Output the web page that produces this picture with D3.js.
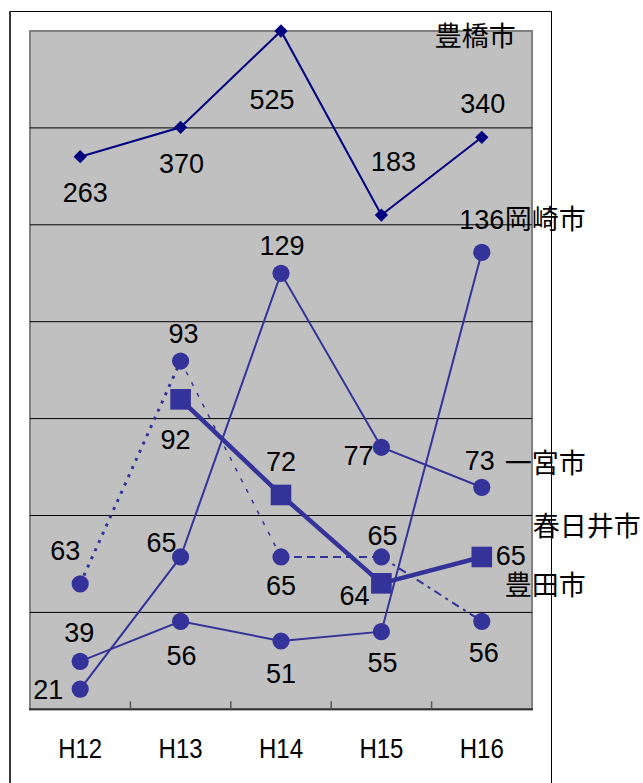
<!DOCTYPE html>
<html>
<head>
<meta charset="utf-8">
<script src="https://cdn.jsdelivr.net/npm/d3@7"></script>
<style>
  body { margin: 0; background: #fff; }
  .num { font-family: "Liberation Sans", Arial, sans-serif; font-size: 27px; fill: #000; }
  .cat { font-family: "Liberation Sans", Arial, sans-serif; font-size: 24px; fill: #000; }
  .name { font-family: "Noto Sans CJK JP", sans-serif; font-size: 27px; fill: #000; }
</style>
</head>
<body>
<svg id="chart" width="643" height="783"></svg>
<script>
// ---- data ----
const years      = ["H12", "H13", "H14", "H15", "H16"];
const toyohashi  = [263, 370, 525, 183, 340];
const okazaki    = [39, 56, 51, 55, 136];
const ichinomiya = [21, 65, 129, 77, 73];
const kasugai    = [null, 92, 72, 64, 65];
const toyota     = [63, 93, 65, 65, 56];
const cityNames  = ["豊橋市", "岡崎市", "一宮市", "春日井市", "豊田市"];

// ---- value axis: piecewise stretched, break values placed on the seven grid bands ----
const axisBreaks = [0, 21, 39, 51, 55, 56, 63, 64, 65, 72, 73, 77, 92, 93, 129, 136, 183, 263, 340, 370, 525];
const axisBands  = [0, 0.209, 0.495, 0.705, 0.801, 0.908, 1.295, 1.30, 1.572, 2.212, 2.291, 2.704,
                    3.199, 3.594, 4.499, 4.716, 5.101, 5.703, 5.903, 6.006, 7];
const bandCount = 7;

// ---- layout ----
const W = 643, H = 783;
const plot = { left: 30, right: 532, top: 31, bottom: 709.3 };
const svg = d3.select("#chart");

const x = d3.scaleBand().domain(years).range([plot.left, plot.right]);
const cx = d => x(d) + x.bandwidth() / 2;
const yBand = d3.scaleLinear().domain(axisBreaks).range(axisBands);
const yPix = d3.scaleLinear().domain([0, bandCount]).range([plot.bottom, plot.top]);
const y = v => yPix(yBand(v));

// outer chart frame
svg.append("rect").attr("x", 10.5).attr("y", 11.5).attr("width", 541).attr("height", 800)
  .attr("fill", "#fff").attr("stroke", "#000").attr("stroke-width", 1);
svg.append("line").attr("x1", 10).attr("x2", 10).attr("y1", 11).attr("y2", H)
  .attr("stroke", "#3a3a3a").attr("stroke-width", 2);

// plot area
svg.append("rect")
  .attr("x", plot.left).attr("y", plot.top)
  .attr("width", plot.right - plot.left).attr("height", plot.bottom - plot.top)
  .attr("fill", "#c0c0c0").attr("stroke", "#808080").attr("stroke-width", 2);

// horizontal grid lines
svg.append("g").selectAll("line").data(d3.range(1, bandCount)).join("line")
  .attr("x1", plot.left).attr("x2", plot.right)
  .attr("y1", d => yPix(d)).attr("y2", d => yPix(d))
  .attr("stroke", "#000").attr("stroke-width", 1);

// category axis with inner ticks between categories
svg.append("line").attr("x1", plot.left - 1).attr("x2", plot.right + 1)
  .attr("y1", plot.bottom).attr("y2", plot.bottom)
  .attr("stroke", "#333").attr("stroke-width", 2);
svg.append("g").selectAll("line").data(d3.range(1, years.length)).join("line")
  .attr("x1", i => plot.left + i * x.step()).attr("x2", i => plot.left + i * x.step())
  .attr("y1", plot.bottom).attr("y2", plot.bottom - 8)
  .attr("stroke", "#555").attr("stroke-width", 1.5);
svg.append("g").selectAll("text").data(years).join("text")
  .attr("class", "cat").attr("text-anchor", "middle")
  .attr("transform", d => `translate(${cx(d)},758) scale(1,1.16)`)
  .text(d => d);

const blue = "#333399", navy = "#000080";
const pts = vals => vals.map((v, i) => ({ v, k: years[i] }));
const line = d3.line().defined(p => p.v != null).x(p => cx(p.k)).y(p => y(p.v));

// 春日井市: thick line with squares
svg.append("path").datum(pts(kasugai)).attr("d", line)
  .attr("fill", "none").attr("stroke", blue).attr("stroke-width", 4.5);

// 豊田市: each segment with its own dash pattern
const toyotaDash = [
  { w: 3, dash: "3,6" },
  { w: 1.5, dash: "4,8" },
  { w: 2, dash: "8,5" },
  { w: 2, dash: "8,5,3,5" }
];
const tp = pts(toyota);
svg.append("g").selectAll("line").data(d3.range(tp.length - 1)).join("line")
  .attr("x1", i => cx(tp[i].k)).attr("y1", i => y(tp[i].v))
  .attr("x2", i => cx(tp[i + 1].k)).attr("y2", i => y(tp[i + 1].v))
  .attr("stroke", blue).attr("stroke-width", i => toyotaDash[i].w)
  .attr("stroke-dasharray", i => toyotaDash[i].dash);

// 岡崎市, 一宮市: thin solid lines
[okazaki, ichinomiya].forEach(vals => {
  svg.append("path").datum(pts(vals)).attr("d", line)
    .attr("fill", "none").attr("stroke", blue).attr("stroke-width", 2);
});

// 豊橋市: navy line
svg.append("path").datum(pts(toyohashi)).attr("d", line)
  .attr("fill", "none").attr("stroke", navy).attr("stroke-width", 2);

// markers
[okazaki, ichinomiya, toyota].forEach(vals => {
  svg.append("g").selectAll("circle").data(pts(vals).filter(p => p.v != null)).join("circle")
    .attr("cx", p => cx(p.k)).attr("cy", p => y(p.v)).attr("r", 8.6).attr("fill", blue);
});
svg.append("g").selectAll("rect").data(pts(kasugai).filter(p => p.v != null)).join("rect")
  .attr("x", p => cx(p.k) - 10.3).attr("y", p => y(p.v) - 10.3)
  .attr("width", 20.6).attr("height", 20.6).attr("fill", blue);
svg.append("g").selectAll("path").data(pts(toyohashi)).join("path")
  .attr("d", d3.symbol(d3.symbolSquare, 88))
  .attr("transform", p => `translate(${cx(p.k)},${y(p.v)}) rotate(45)`)
  .attr("fill", navy);

// value labels, offset from each marker
const labelOffsets = [
  [[5, 36], [1, 36], [-9, 68], [12, -54], [1, -34]],        // 豊橋市
  [[-1, -29], [1, 34], [0, 32], [1, 31], [0, -33]],          // 岡崎市
  [[-32, 0], [-19, -15], [1, -28], [-23, 8], [-2, -27]],     // 一宮市
  [null, [-5, 40], [0, -34], [-27, 12], [29, -2]],           // 春日井市
  [[-15, -34], [3, -28], [0, 28], [1, -22], [2, 31]]         // 豊田市
];
const allSeries = [toyohashi, okazaki, ichinomiya, kasugai, toyota];
const labels = [];
allSeries.forEach((vals, s) => vals.forEach((v, i) => {
  if (v == null) return;
  const o = labelOffsets[s][i];
  labels.push({ v, lx: cx(years[i]) + o[0], ly: y(v) + o[1] });
}));
svg.append("g").selectAll("text").data(labels).join("text")
  .attr("class", "num").attr("text-anchor", "middle")
  .attr("x", d => d.lx).attr("y", d => d.ly + 9.7)
  .text(d => d.v);

// city names next to the last point of each series
const nameOffsets = [[-47, -101], [23, -33], [23, -24], [51, -31], [23, -36]];
const last = years[years.length - 1];
svg.append("g").selectAll("text").data(cityNames).join("text")
  .attr("class", "name")
  .attr("x", (d, s) => cx(last) + nameOffsets[s][0])
  .attr("y", (d, s) => y(allSeries[s][years.length - 1]) + nameOffsets[s][1] + 10)
  .text(d => d);
</script>
</body>
</html>
